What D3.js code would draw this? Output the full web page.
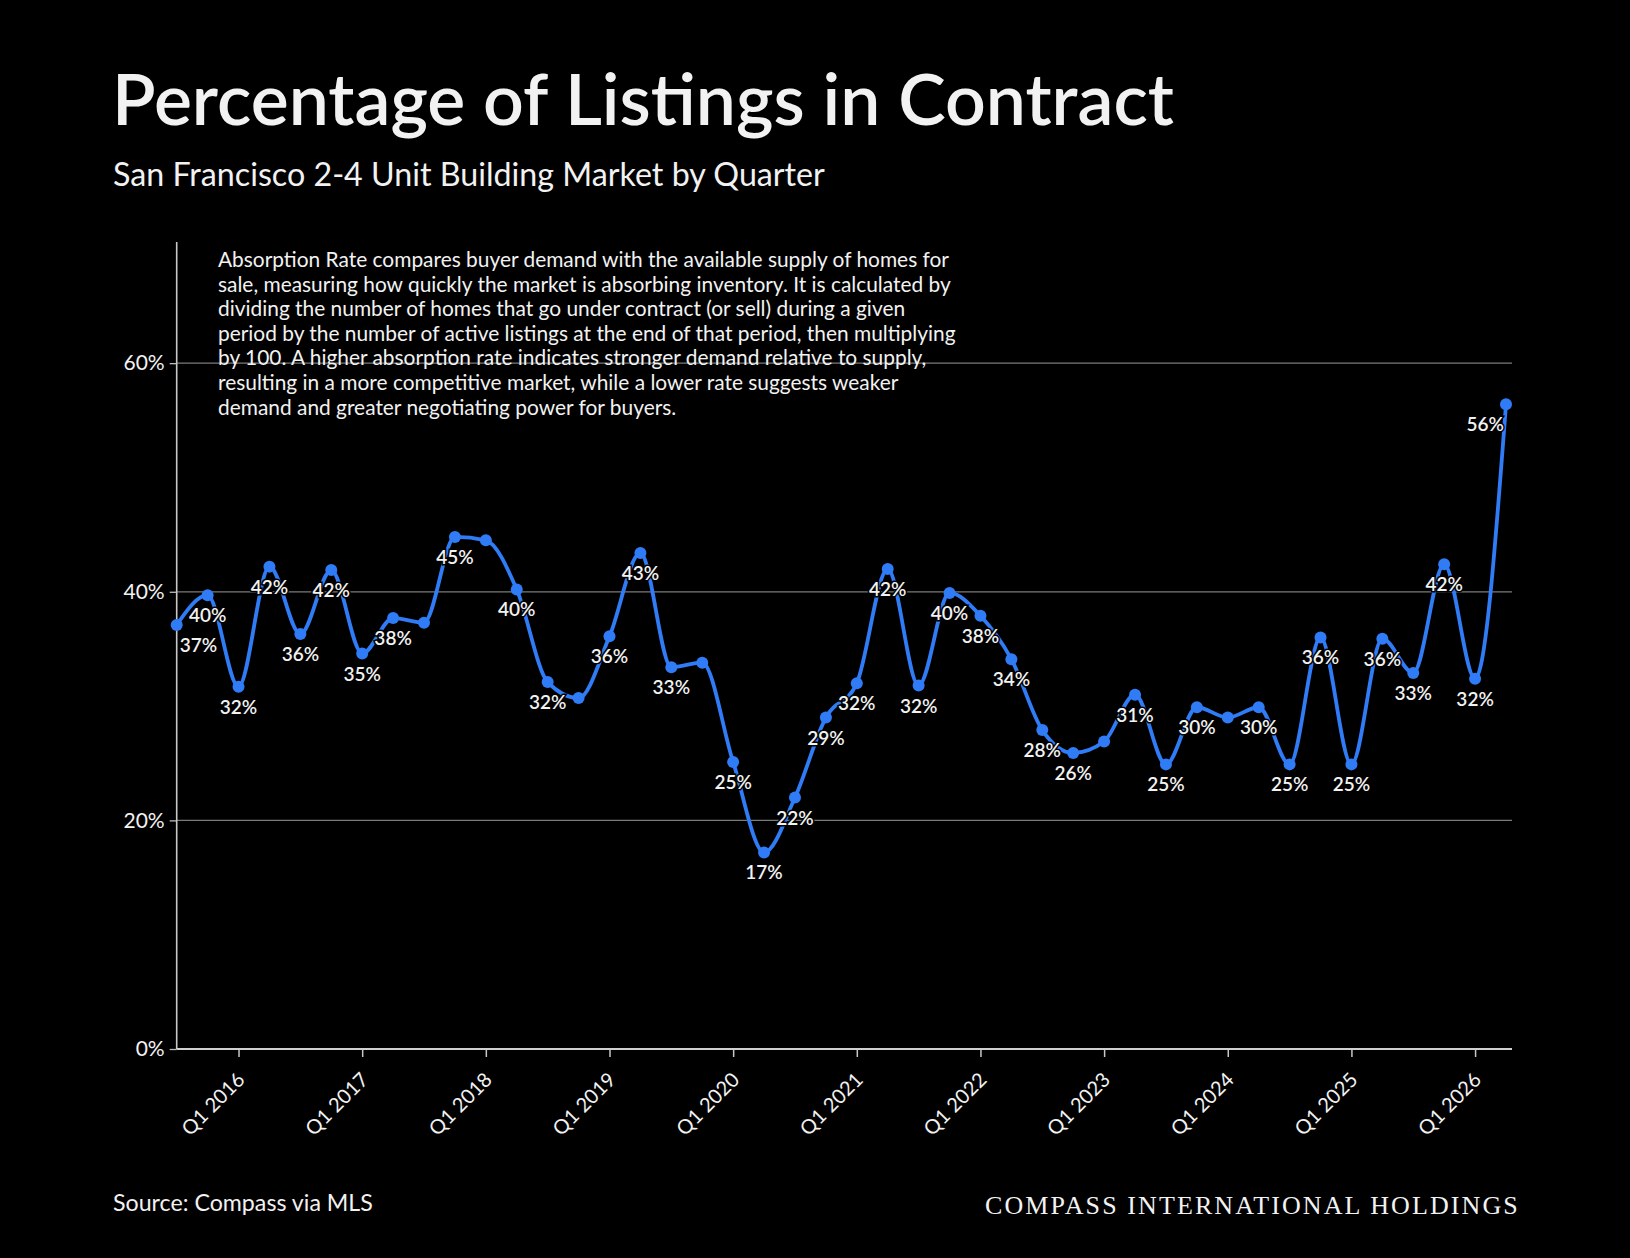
<!DOCTYPE html>
<html>
<head>
<meta charset="utf-8">
<script src="https://cdn.jsdelivr.net/npm/d3@7"></script>
<style>
  html, body { margin: 0; padding: 0; background: #000; }
  svg { display: block; }
  text { font-family: Lato, "Open Sans", sans-serif; fill: #f2f2f2; }
</style>
</head>
<body>
<svg id="chart" width="1630" height="1258"></svg>
<script>
"use strict";

// quarters shown on the chart
var quarters = [
  "Q3 2015", "Q4 2015",
  "Q1 2016", "Q2 2016", "Q3 2016", "Q4 2016",
  "Q1 2017", "Q2 2017", "Q3 2017", "Q4 2017",
  "Q1 2018", "Q2 2018", "Q3 2018", "Q4 2018",
  "Q1 2019", "Q2 2019", "Q3 2019", "Q4 2019",
  "Q1 2020", "Q2 2020", "Q3 2020", "Q4 2020",
  "Q1 2021", "Q2 2021", "Q3 2021", "Q4 2021",
  "Q1 2022", "Q2 2022", "Q3 2022", "Q4 2022",
  "Q1 2023", "Q2 2023", "Q3 2023", "Q4 2023",
  "Q1 2024", "Q2 2024", "Q3 2024", "Q4 2024",
  "Q1 2025", "Q2 2025", "Q3 2025", "Q4 2025",
  "Q1 2026", "Q2 2026"
];

// % of listings in contract
var pctInContract = [
  37.1, 39.7,
  31.7, 42.2, 36.3, 41.9,
  34.6, 37.7, 37.3, 44.8,
  44.5, 40.2, 32.1, 30.7,
  36.1, 43.4, 33.4, 33.8,
  25.1, 17.2, 22.0, 29.0,
  32.0, 42.0, 31.8, 39.9,
  37.9, 34.1, 27.9, 25.9,
  26.9, 31.0, 24.9, 29.9,
  29.0, 29.9, 24.9, 36.0,
  24.9, 35.9, 32.9, 42.4,
  32.4, 56.4
];

// points that carry no value label in the original
var unlabeled = ["Q3 2017", "Q1 2018", "Q4 2018", "Q4 2019", "Q1 2023", "Q1 2024"];

var yTicks = [0, 20, 40, 60];
var xTicks = ["Q1 2016", "Q1 2017", "Q1 2018", "Q1 2019", "Q1 2020", "Q1 2021",
              "Q1 2022", "Q1 2023", "Q1 2024", "Q1 2025", "Q1 2026"];

var noteLines = [
  "Absorption Rate compares buyer demand with the available supply of homes for",
  "sale, measuring how quickly the market is absorbing inventory. It is calculated by",
  "dividing the number of homes that go under contract (or sell) during a given",
  "period by the number of active listings at the end of that period, then multiplying",
  "by 100. A higher absorption rate indicates stronger demand relative to supply,",
  "resulting in a more competitive market, while a lower rate suggests weaker",
  "demand and greater negotiating power for buyers."
];

var data = quarters.map((q, i) => ({ q: q, v: pctInContract[i] }));

var svg = d3.select("#chart");
svg.append("rect").attr("width", 1630).attr("height", 1258).attr("fill", "#000");

// shrink / grow font so a text hits a given width
function fitWidth(sel, target) {
  var fs = parseFloat(sel.attr("font-size"));
  var w = sel.node().getComputedTextLength();
  sel.attr("font-size", (fs * target / w).toFixed(2));
}

var plotLeft = 176.7, plotRight = 1512, plotBottom = 1049, plotTop = 242;

var x = d3.scalePoint().domain(quarters).range([plotLeft, 1506]);
var y = d3.scaleLinear().domain([0, 70.6]).range([plotBottom, plotTop]);

// title block
var title = svg.append("text").attr("x", 112).attr("y", 125)
  .attr("font-size", 66).attr("font-weight", 600)
  .text("Percentage of Listings in Contract");
fitWidth(title, 1062);

var sub = svg.append("text").attr("x", 113).attr("y", 186)
  .attr("font-size", 29)
  .text("San Francisco 2-4 Unit Building Market by Quarter");
fitWidth(sub, 712);

var g = svg.append("g");

// gridlines
g.selectAll("line.grid")
  .data(yTicks.filter(d => d > 0))
  .enter().append("line")
  .attr("class", "grid")
  .attr("x1", plotLeft).attr("x2", plotRight)
  .attr("y1", d => y(d)).attr("y2", d => y(d))
  .attr("stroke", "#7a7a7a").attr("stroke-width", 1.3);

// note text
var note = g.append("text").attr("x", 218).attr("y", 267).attr("font-size", 19.5);
note.selectAll("tspan").data(noteLines).enter().append("tspan")
  .attr("x", 218).attr("dy", (d, i) => i ? 24.6 : 0)
  .text(d => d);
var widest = d3.max(note.selectAll("tspan").nodes(), n => n.getComputedTextLength());
note.attr("font-size", (19.5 * 738 / widest).toFixed(2));

// y axis
var yAxis = g.append("g").attr("transform", "translate(" + plotLeft + ",0)")
  .call(d3.axisLeft(y).tickValues(yTicks).tickFormat(d => d + "%").tickSize(7).tickPadding(5));
yAxis.select(".domain").remove();
yAxis.selectAll("line").attr("stroke", "#bbb").attr("stroke-width", 1.3);
yAxis.selectAll("text").attr("font-size", 21).attr("fill", "#eee");
g.append("line").attr("x1", plotLeft).attr("x2", plotLeft).attr("y1", plotTop).attr("y2", plotBottom)
  .attr("stroke", "#c8c8c8").attr("stroke-width", 1.6);

// x axis
var xAxis = g.append("g").attr("transform", "translate(0," + plotBottom + ")")
  .call(d3.axisBottom(x).tickValues(xTicks).tickSize(8).tickSizeOuter(0));
xAxis.select(".domain").remove();
xAxis.selectAll("line").attr("stroke", "#c8c8c8").attr("stroke-width", 1.5);
xAxis.selectAll("text")
  .attr("font-size", 20).attr("fill", "#eee")
  .attr("text-anchor", "end")
  .attr("transform", "translate(2,27) rotate(-45)")
  .attr("dy", "0.35em").attr("y", 0);
g.append("line").attr("x1", plotLeft).attr("x2", plotRight).attr("y1", plotBottom).attr("y2", plotBottom)
  .attr("stroke", "#d0d0d0").attr("stroke-width", 2);

// the series
var line = d3.line().x(d => x(d.q)).y(d => y(d.v)).curve(d3.curveMonotoneX);
g.append("path").datum(data)
  .attr("d", line)
  .attr("fill", "none")
  .attr("stroke", "#2f7cf6")
  .attr("stroke-width", 3.8)
  .attr("stroke-linejoin", "round");

g.selectAll("circle.dot").data(data).enter().append("circle")
  .attr("class", "dot")
  .attr("cx", d => x(d.q)).attr("cy", d => y(d.v)).attr("r", 6)
  .attr("fill", "#2f7cf6");

// value labels under points
var labels = g.selectAll("text.val")
  .data(data.filter(d => unlabeled.indexOf(d.q) < 0))
  .enter().append("text")
  .attr("class", "val")
  .attr("font-size", 19)
  .attr("font-weight", 600)
  .attr("text-anchor", "middle")
  .attr("stroke", "#000").attr("stroke-width", 3).attr("paint-order", "stroke")
  .attr("y", d => y(d.v) + 27)
  .text(d => Math.round(d.v) + "%");
labels.attr("x", function(d) {
  var half = this.getComputedTextLength() / 2;
  var cx = x(d.q);
  if (cx - half < plotLeft + 3) cx = plotLeft + 3 + half;
  if (cx + half > plotRight - 8) cx = plotRight - 8 - half;
  return cx;
});

// footer
var src = svg.append("text").attr("x", 113).attr("y", 1211).attr("font-size", 21)
  .text("Source: Compass via MLS");
fitWidth(src, 260);

var brand = svg.append("text").attr("x", 985).attr("y", 1214)
  .style("font-family", "'Liberation Serif', 'DejaVu Serif', serif")
  .attr("font-size", 26).attr("fill", "#d8d8d8")
  .attr("letter-spacing", 0)
  .text("COMPASS INTERNATIONAL HOLDINGS");
var bw = brand.node().getComputedTextLength();
var nChars = "COMPASS INTERNATIONAL HOLDINGS".length;
brand.attr("letter-spacing", ((535 - bw) / nChars).toFixed(2));
</script>
</body>
</html>
